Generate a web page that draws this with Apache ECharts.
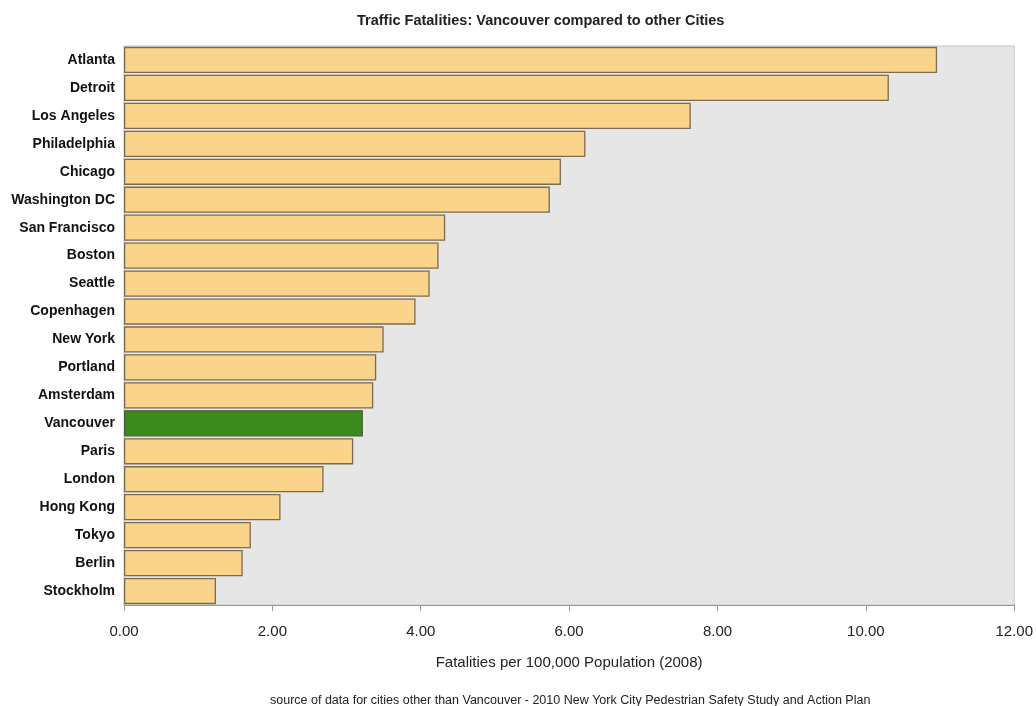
<!DOCTYPE html>
<html><head><meta charset="utf-8">
<script src="https://cdn.jsdelivr.net/npm/echarts@6/dist/echarts.min.js"></script>
<style>html,body{margin:0;padding:0;background:#fff}#c{width:1036px;height:706px}</style>
</head><body><div id="c"></div>
<script>
const cities = ["Atlanta","Detroit","Los Angeles","Philadelphia","Chicago","Washington DC","San Francisco","Boston","Seattle","Copenhagen","New York","Portland","Amsterdam","Vancouver","Paris","London","Hong Kong","Tokyo","Berlin","Stockholm"];
const fatalities = [10.96,10.31,7.64,6.22,5.89,5.74,4.33,4.24,4.12,3.93,3.50,3.40,3.36,3.22,3.09,2.69,2.11,1.71,1.60,1.24];
const highlight = "Vancouver";
const xTicks = [0,2,4,6,8,10,12];

const chart = echarts.init(document.getElementById('c'));
chart.setOption({
  backgroundColor:'#ffffff',
  animation:false,
  title:{text:'Traffic Fatalities: Vancouver compared to other Cities',left:352,top:8,
    textStyle:{fontFamily:'Liberation Sans, Arial',fontSize:14.5,fontWeight:'bold',color:'#222'}},
  grid:{left:124,right:20,top:46,bottom:101,show:true,backgroundColor:'#e6e6e6',borderColor:'#c4c4c4',borderWidth:1},
  xAxis:{type:'value',min:xTicks[0],max:xTicks[xTicks.length-1],interval:xTicks[1]-xTicks[0],
    name:'Fatalities per 100,000 Population (2008)',nameLocation:'middle',nameGap:50,
    nameTextStyle:{fontFamily:'Liberation Sans, Arial',fontSize:15,color:'#222'},
    axisLine:{show:true,lineStyle:{color:'#999'}},
    axisTick:{show:true,length:6,lineStyle:{color:'#999'}},
    splitLine:{show:false},
    axisLabel:{margin:19,fontFamily:'Liberation Sans, Arial',fontSize:15,color:'#222',formatter:v=>v.toFixed(2)}},
  yAxis:{type:'category',data:cities,inverse:true,
    axisLine:{show:false},axisTick:{show:false},
    axisLabel:{margin:9,fontFamily:'Liberation Sans, Arial',fontSize:14,fontWeight:'bold',color:'#111'}},
  graphic:[{type:'text',left:270,top:694,style:{text:'source of data for cities other than Vancouver - 2010 New York City Pedestrian Safety Study and Action Plan',
    font:'12.5px Liberation Sans, Arial',fill:'#222'}}],
  series:[{type:'bar',barCategoryGap:'6%',
    data:cities.map((c,i)=>({value:fatalities[i],itemStyle:c===highlight?{color:'#3a8a1e',borderColor:'#4d5a3a'}:{color:'#f9d48a',borderColor:'#7d6b50'}})),
    itemStyle:{borderWidth:1.3}}]
});
</script></body></html>
